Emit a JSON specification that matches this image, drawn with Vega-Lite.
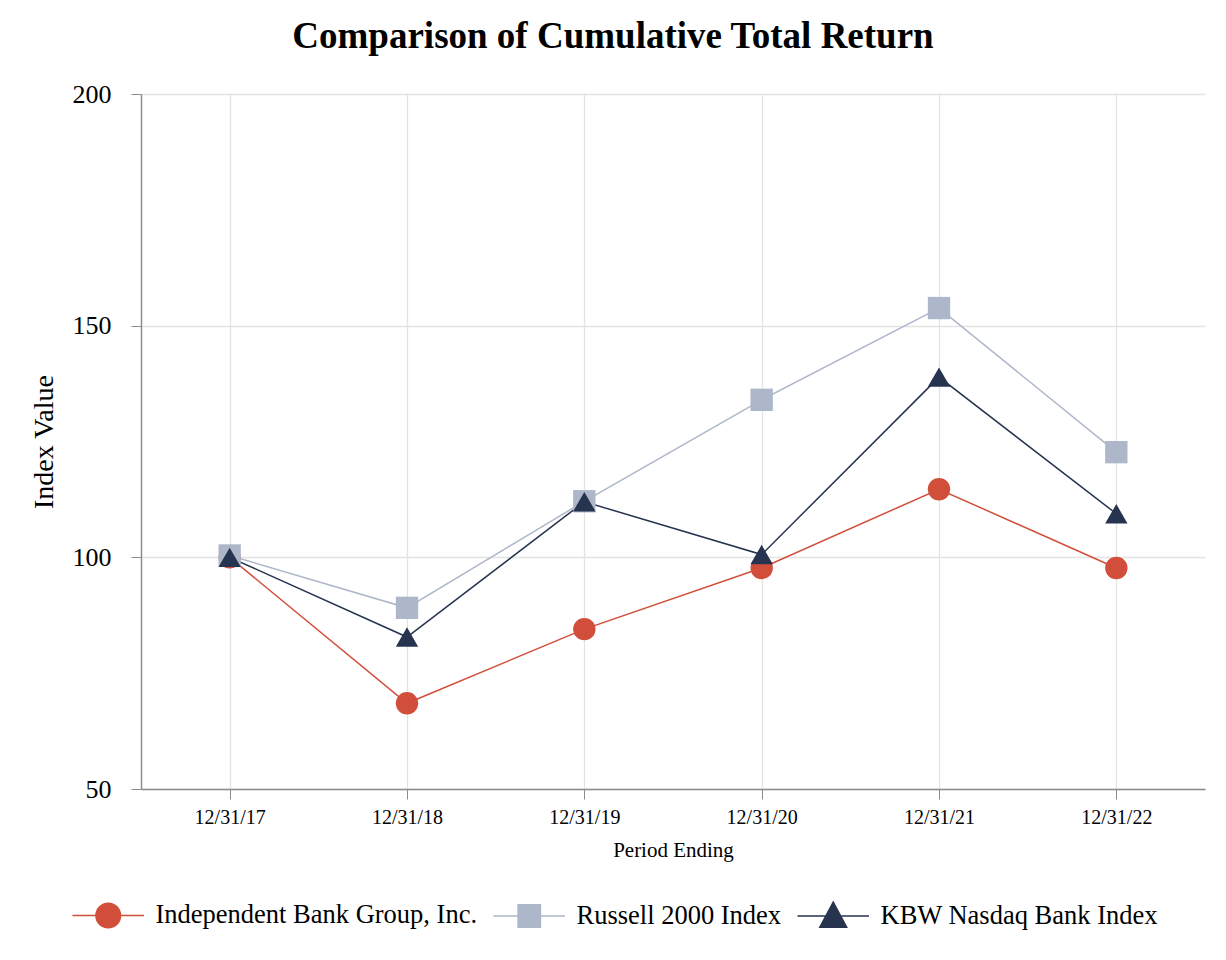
{
  "$schema": "https://vega.github.io/schema/vega-lite/v6.json",
  "width": 1064,
  "height": 695,
  "autosize": "none",
  "padding": {"left": 141, "top": 94, "right": 21, "bottom": 171},
  "background": "white",
  "title": {
    "text": "Comparison of Cumulative Total Return",
    "font": "Liberation Serif",
    "fontSize": 37,
    "fontWeight": "bold",
    "color": "black",
    "anchor": "middle",
    "dx": -60,
    "offset": 25
  },
  "config": {
    "view": {"stroke": null},
    "font": "Liberation Serif",
    "axis": {
      "labelFont": "Liberation Serif",
      "titleFont": "Liberation Serif",
      "labelColor": "black",
      "titleColor": "black",
      "titleFontWeight": "normal",
      "domainColor": "#8c8c8c",
      "tickColor": "#8c8c8c",
      "gridColor": "#e3e3e3",
      "gridWidth": 1.3,
      "domainWidth": 1.5,
      "tickSize": 10
    },
    "legend": {
      "title": null,
      "orient": "none",
      "legendX": -46,
      "legendY": 808,
      "direction": "horizontal",
      "padding": 0,
      "labelFont": "Liberation Serif",
      "labelFontSize": 26.5,
      "labelColor": "black",
      "symbolSize": 500,
      "symbolOpacity": 1,
      "labelOffset": 34,
      "columnPadding": 12,
      "labelLimit": 500
    }
  },
  "data": {
    "values": [
      {"period": "12/31/17", "series": "Independent Bank Group, Inc.", "value": 100},
      {"period": "12/31/18", "series": "Independent Bank Group, Inc.", "value": 68.5},
      {"period": "12/31/19", "series": "Independent Bank Group, Inc.", "value": 84.5},
      {"period": "12/31/20", "series": "Independent Bank Group, Inc.", "value": 97.7},
      {"period": "12/31/21", "series": "Independent Bank Group, Inc.", "value": 114.7},
      {"period": "12/31/22", "series": "Independent Bank Group, Inc.", "value": 97.7},
      {"period": "12/31/17", "series": "Russell 2000 Index", "value": 100.4},
      {"period": "12/31/18", "series": "Russell 2000 Index", "value": 89.1},
      {"period": "12/31/19", "series": "Russell 2000 Index", "value": 112.1},
      {"period": "12/31/20", "series": "Russell 2000 Index", "value": 134.0},
      {"period": "12/31/21", "series": "Russell 2000 Index", "value": 153.8},
      {"period": "12/31/22", "series": "Russell 2000 Index", "value": 122.7},
      {"period": "12/31/17", "series": "KBW Nasdaq Bank Index", "value": 100},
      {"period": "12/31/18", "series": "KBW Nasdaq Bank Index", "value": 82.8},
      {"period": "12/31/19", "series": "KBW Nasdaq Bank Index", "value": 112.0},
      {"period": "12/31/20", "series": "KBW Nasdaq Bank Index", "value": 100.6},
      {"period": "12/31/21", "series": "KBW Nasdaq Bank Index", "value": 138.9},
      {"period": "12/31/22", "series": "KBW Nasdaq Bank Index", "value": 109.4}
    ]
  },
  "encoding": {
    "x": {
      "field": "period",
      "type": "ordinal",
      "scale": {"type": "point", "padding": 0.5},
      "axis": {
        "title": "Period Ending",
        "labelAngle": 0,
        "labelFontSize": 20,
        "titleFontSize": 21,
        "labelPadding": 8,
        "titlePadding": 12,
        "grid": true
      }
    },
    "y": {
      "field": "value",
      "type": "quantitative",
      "scale": {"domain": [50, 200], "nice": false, "zero": false},
      "axis": {
        "title": "Index Value",
        "values": [50, 100, 150, 200],
        "labelFontSize": 26,
        "titleFontSize": 28,
        "labelPadding": 20,
        "titlePadding": 14,
        "grid": true
      }
    },
    "color": {
      "field": "series",
      "type": "nominal",
      "sort": ["Independent Bank Group, Inc.", "Russell 2000 Index", "KBW Nasdaq Bank Index"],
      "scale": {
        "domain": ["Independent Bank Group, Inc.", "Russell 2000 Index", "KBW Nasdaq Bank Index"],
        "range": ["#D14F3A", "#ADB7C9", "#26344F"]
      },
      "legend": {
        "encode": {
          "symbols": {
            "update": {
              "shape": {"signal": "datum.value === 'Independent Bank Group, Inc.' ? 'M-3.2,0H3.2M-1.1,0A1.1,1.1 0 1,0 1.1,0A1.1,1.1 0 1,0 -1.1,0Z' : datum.value === 'Russell 2000 Index' ? 'M-3.2,0H3.2M-1,-1H1V1H-1Z' : 'M-3.2,0H3.2M0,-1.25L1.2,1L-1.2,1Z'"},
              "stroke": {"scale": "color", "field": "value"},
              "fill": {"scale": "color", "field": "value"},
              "strokeWidth": {"value": 1.5},
              "opacity": {"value": 1}
            }
          }
        }
      }
    }
  },
  "layer": [
    {
      "mark": {"type": "line", "strokeWidth": 1.5},
      "encoding": {"detail": {"field": "series"}}
    },
    {
      "transform": [{"filter": "datum.series === 'Independent Bank Group, Inc.'"}],
      "mark": {"type": "point", "filled": true, "opacity": 1, "size": 500, "shape": "circle"}
    },
    {
      "transform": [{"filter": "datum.series === 'Russell 2000 Index'"}],
      "mark": {"type": "point", "filled": true, "opacity": 1, "size": 500, "shape": "square"}
    },
    {
      "transform": [{"filter": "datum.series === 'KBW Nasdaq Bank Index'"}],
      "mark": {"type": "point", "filled": true, "opacity": 1, "size": 500, "shape": "triangle-up"}
    }
  ]
}
